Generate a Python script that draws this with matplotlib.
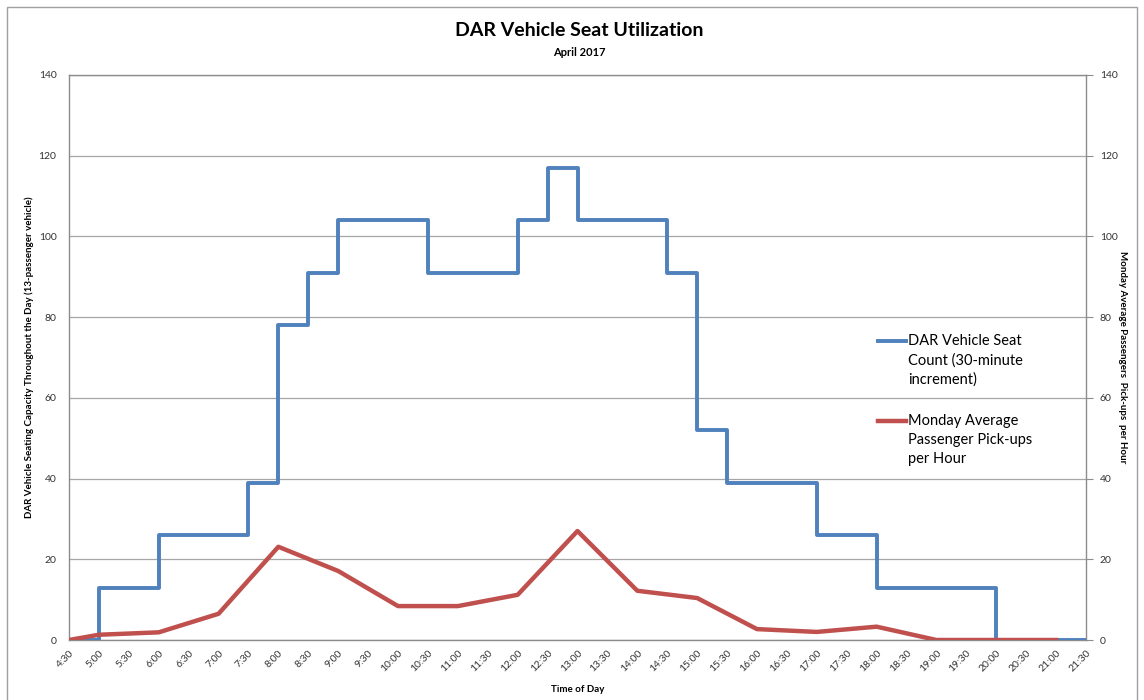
import matplotlib
matplotlib.use("Agg")
import matplotlib.pyplot as plt
from matplotlib.patches import Rectangle
from matplotlib.legend_handler import HandlerLine2D

plt.rcParams['font.family'] = ['Lato', 'DejaVu Sans']

# half-hour slots shown on the x axis
times = ["4:30", "5:00", "5:30", "6:00", "6:30", "7:00", "7:30", "8:00", "8:30",
         "9:00", "9:30", "10:00", "10:30", "11:00", "11:30", "12:00", "12:30",
         "13:00", "13:30", "14:00", "14:30", "15:00", "15:30", "16:00", "16:30",
         "17:00", "17:30", "18:00", "18:30", "19:00", "19:30", "20:00", "20:30",
         "21:00", "21:30"]

# seat count per half hour (13-passenger vehicles)
seat_count = [0, 13, 13, 26, 26, 26, 39, 78, 91, 104, 104, 104, 91, 91, 91,
              104, 117, 104, 104, 104, 91, 52, 39, 39, 39, 26, 26, 13, 13, 13,
              13, 0, 0, 0, 0]

# monday average pick-ups per hour
pickup_times = ["4:30", "5:00", "6:00", "7:00", "8:00", "9:00", "10:00", "11:00",
                "12:00", "13:00", "14:00", "15:00", "16:00", "17:00", "18:00",
                "19:00", "20:00", "21:00"]
pickups = [0, 1.3, 1.9, 6.5, 23.1, 17.1, 8.4, 8.4, 11.2, 27.0, 12.2, 10.4,
           2.7, 2.0, 3.3, 0, 0, 0]


class TopLine(HandlerLine2D):
    # put the legend key next to the first line of a wrapped label
    def create_artists(self, legend, orig_handle, xdescent, ydescent, width,
                       height, fontsize, trans):
        arts = super().create_artists(legend, orig_handle, xdescent, ydescent,
                                      width, height, fontsize, trans)
        for a in arts:
            a.set_ydata([y + 14.5 for y in a.get_ydata()])
        return arts


W, H = 1144, 700
fig = plt.figure(figsize=(W / 100, H / 100), dpi=100)
ax = fig.add_axes([69 / W, 1 - 640 / H, (1086 - 69) / W, (640 - 75) / H])

xs = list(range(len(times)))
px = [times.index(t) for t in pickup_times]

blue = "#4F81BD"
red = "#C0504D"
l1, = ax.plot(xs, seat_count, drawstyle="steps-post", color=blue, lw=2.8,
              label="DAR Vehicle Seat\nCount (30-minute\nincrement)", zorder=3)
l2, = ax.plot(px, pickups, color=red, lw=3.2, solid_joinstyle="round",
              label="Monday Average\nPassenger Pick-ups\nper Hour", zorder=4)

ax.set_xlim(0, len(times) - 1)
ax.set_ylim(0, 140)
ax.set_yticks(range(0, 141, 20))
ax.set_xticks(xs)
ax.set_xticklabels(times, rotation=45, ha="right", rotation_mode="anchor",
                   fontsize=7.5, color="#333333")
ax.tick_params(axis="x", length=0, pad=6)
ax.tick_params(axis="y", length=0, labelsize=7.5, labelcolor="#333333", pad=9)
ax.grid(axis="y", color="#A6A6A6", lw=0.9)
ax.set_axisbelow(True)
for s in ax.spines.values():
    s.set_color("#8C8C8C")
    s.set_linewidth(1)

ax2 = ax.twinx()
ax2.set_ylim(0, 140)
ax2.set_yticks(range(0, 141, 20))
ax2.tick_params(axis="y", length=5, color="#8C8C8C", labelsize=7.5,
                labelcolor="#333333", pad=5)
for s in ax2.spines.values():
    s.set_visible(False)

ax.set_ylabel("DAR Vehicle Seating Capacity Throughout the Day (13-passenger vehicle)",
              fontsize=7, fontweight="bold")
ax.yaxis.set_label_coords(-35 / 1017, 0.5)
ax2.set_ylabel("Monday Average Passengers  Pick-ups  per Hour", fontsize=7,
               fontweight="bold", rotation=-90, va="center")
ax2.yaxis.set_label_coords(1 + 37 / 1017, 0.5)
ax.set_xlabel("Time of Day", fontsize=7, fontweight="bold", labelpad=8)

fig.text(0.506, 1 - 30 / H, "DAR Vehicle Seat Utilization", ha="center",
         va="center", fontsize=14, fontweight="bold")
fig.text(0.506, 1 - 52 / H, "April 2017", ha="center", va="center",
         fontsize=8, fontweight="bold")

leg = ax.legend(handles=[l1, l2], loc="upper left",
                bbox_to_anchor=(803 / 1017, 1 - 253 / 565),
                frameon=False, fontsize=10.5, handlelength=1.9,
                handletextpad=0.15, labelspacing=1.9, borderaxespad=0,
                handler_map={l1: TopLine(), l2: TopLine()})
for t in leg.get_texts():
    t.set_linespacing(1.45)

fig.patches.append(Rectangle((7 / W, -0.01), (1137 - 7) / W, 1 - 7 / H + 0.01,
                             transform=fig.transFigure, fill=False,
                             edgecolor="#A0A0A0", lw=1))

fig.savefig("out.png", dpi=100)
